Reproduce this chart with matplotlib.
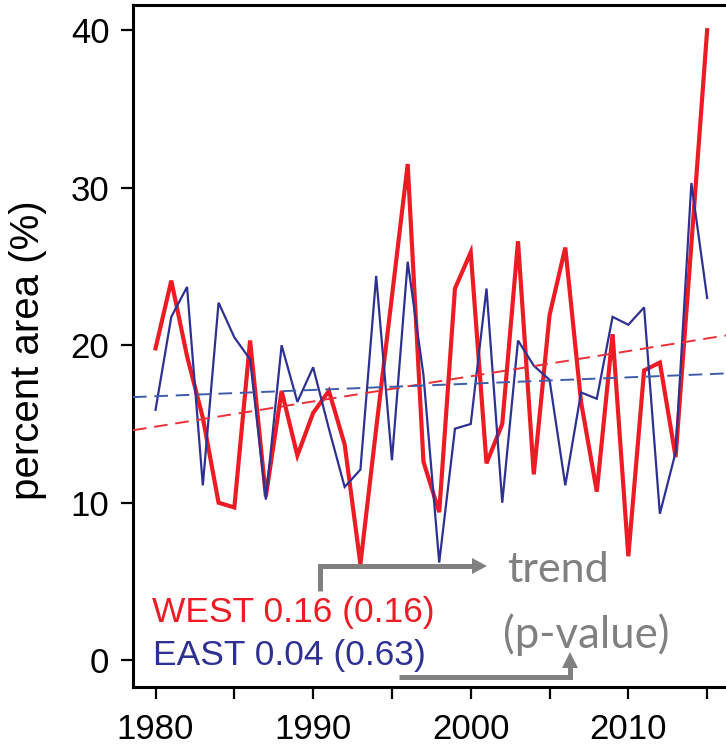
import numpy as np
import matplotlib
matplotlib.use("Agg")
import matplotlib.pyplot as plt
from matplotlib.lines import Line2D
from matplotlib.patches import Polygon

# ---- data ----
years = np.arange(1980, 2016)
west = [19.8, 24.1, 19.3, 15.4, 10.0, 9.7, 20.3, 10.4, 17.1, 13.0,
        15.7, 17.1, 13.7, 6.1, 14.7, 23.1, 31.5, 12.6, 9.4, 23.6,
        25.9, 12.5, 15.0, 26.6, 11.8, 21.9, 26.2, 16.4, 10.7, 20.7,
        6.6, 18.4, 18.9, 12.9, 26.4, 40.0]
east = [15.9, 21.8, 23.7, 11.1, 22.7, 20.5, 19.1, 10.2, 20.0, 16.4,
        18.6, 14.7, 11.0, 12.1, 24.4, 12.7, 25.3, 18.1, 6.2, 14.7,
        15.0, 23.6, 10.0, 20.3, 18.7, 17.8, 11.1, 17.0, 16.6, 21.8,
        21.3, 22.4, 9.3, 13.2, 30.3, 23.0]

# trend: slope per year and level at 1980
west_trend = (0.16, 14.83)
east_trend = (0.04, 16.76)
west_label = "WEST 0.16 (0.16)"
east_label = "EAST 0.04 (0.63)"

xticks = [1980, 1985, 1990, 1995, 2000, 2005, 2010, 2015]
xticklabels = ["1980", "", "1990", "", "2000", "", "2010", ""]
yticks = [0, 10, 20, 30, 40]

RED = "#ED1C24"
NAVY = "#2E3192"
RED_DASH = "#EC2F37"
BLUE_DASH = "#3D5DAA"
GRAY = "#808080"

W, H = 726, 752
plt.rcParams["font.family"] = ["Liberation Sans", "DejaVu Sans"]

fig = plt.figure(figsize=(W / 100, H / 100), dpi=100)


def fx(x):
    return x / W


def fy(y):
    return 1 - y / H


# axes box in pixels: left 133, right edge of figure, top 5, bottom 687
ax = fig.add_axes([fx(133), fy(687), fx(726) - fx(133), fy(5) - fy(687)])
ax.set_xlim(1978.57, 1978.57 + (726 - 133) / 15.76)
ax.set_ylim(-1.7, 41.6)

ax.plot(years, west, color=RED, lw=3.0, solid_joinstyle="miter", zorder=2)
ax.plot(years, east, color=NAVY, lw=1.6, solid_joinstyle="miter", zorder=3)

xl = np.array(ax.get_xlim())
for (slope, lvl), col in [(west_trend, RED_DASH), (east_trend, BLUE_DASH)]:
    ax.plot(xl, lvl + slope * (xl - 1980), color=col, lw=1.4,
            dashes=(7, 4), zorder=4)

for side in ["left", "bottom", "top"]:
    ax.spines[side].set_linewidth(2.2)
ax.spines["right"].set_visible(False)

ax.set_xticks(xticks)
ax.set_xticklabels(xticklabels)
ax.set_yticks(yticks)
ax.tick_params(axis="x", direction="out", length=8.5, width=1.6,
               labelsize=25, pad=10)
ax.tick_params(axis="y", direction="out", length=9, width=1.6,
               labelsize=25, pad=8)

ax.set_ylabel("percent area (%)", fontsize=29)
ax.yaxis.set_label_coords((47 - 133) / 593, (687 - 350) / 682)

# legend-like labels
fig.text(fx(152), fy(622), west_label, color=RED, fontsize=25.5, va="baseline")
fig.text(fx(153), fy(665), east_label, color=NAVY, fontsize=25.5, va="baseline")

# explanatory gray notes
fig.text(fx(507), fy(582), "trend", color=GRAY, fontsize=31,
         family=["Lato", "DejaVu Sans"], va="baseline")
fig.text(fx(503), fy(648), "(p-value)", color=GRAY, fontsize=31.5,
         family=["Lato", "DejaVu Sans"], va="baseline")

# arrows
shaft1 = [(320, 591), (320, 566), (473, 566)]
head1 = [(487, 566), (472, 558), (472, 574)]
shaft2 = [(399, 677), (570, 677), (570, 667)]
head2 = [(570, 652), (562, 668), (578, 668)]
for shaft, head in [(shaft1, head1), (shaft2, head2)]:
    fig.add_artist(Line2D([fx(p[0]) for p in shaft], [fy(p[1]) for p in shaft],
                          color=GRAY, lw=3.6, solid_joinstyle="miter",
                          solid_capstyle="butt", transform=fig.transFigure))
    fig.add_artist(Polygon([(fx(p[0]), fy(p[1])) for p in head], closed=True,
                           color=GRAY, lw=0, transform=fig.transFigure))

fig.savefig("out.png", dpi=100)
